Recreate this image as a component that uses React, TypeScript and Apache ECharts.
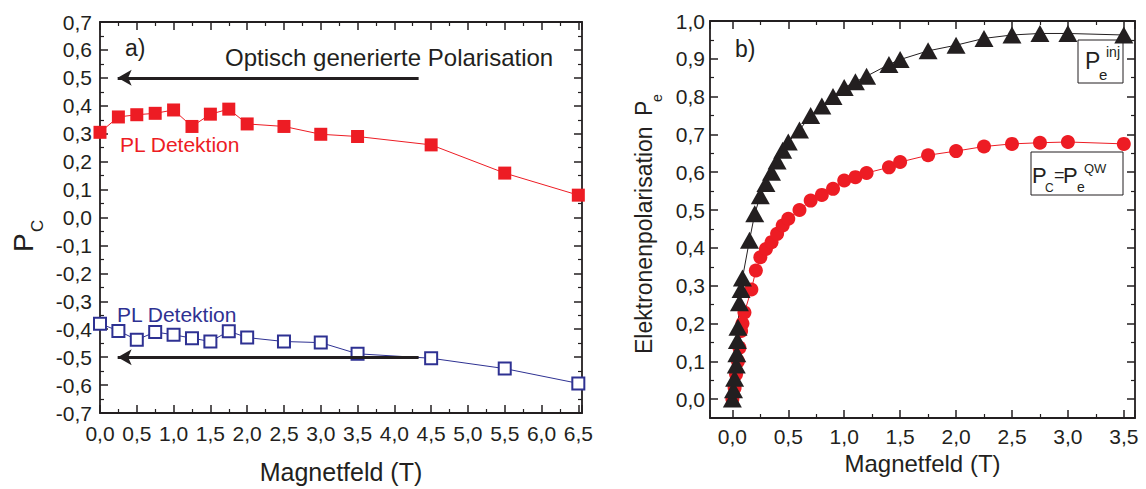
import React, { useEffect, useRef } from "react";
import * as echarts from "echarts";

// ---- Data (panel a) ----
const aX = [0, 0.25, 0.5, 0.75, 1, 1.25, 1.5, 1.75, 2, 2.5, 3, 3.5, 4.5, 5.5, 6.5];
const aRed = [0.305, 0.36, 0.368, 0.373, 0.385, 0.326, 0.37, 0.388, 0.335, 0.326, 0.298, 0.29, 0.26, 0.159, 0.08];
const aBlue = [-0.38, -0.406, -0.438, -0.41, -0.42, -0.432, -0.444, -0.407, -0.43, -0.444, -0.448, -0.488, -0.504, -0.541, -0.594];
const arrowY = [0.5, -0.5];
const arrowFrom = 4.33;
const arrowTo = 0.24;

// ---- Data (panel b) ----
const injX = [0, 0.01, 0.02, 0.035, 0.04, 0.045, 0.05, 0.063, 0.078, 0.09, 0.153, 0.2, 0.25, 0.3, 0.35, 0.4, 0.45, 0.5, 0.6, 0.7, 0.8, 0.9, 1.0, 1.1, 1.2, 1.4, 1.5, 1.75, 2.0, 2.25, 2.5, 2.75, 3.0, 3.5];
const injY = [0, 0.025, 0.055, 0.09, 0.12, 0.155, 0.19, 0.255, 0.29, 0.32, 0.42, 0.49, 0.538, 0.57, 0.6, 0.63, 0.658, 0.68, 0.712, 0.75, 0.775, 0.8, 0.824, 0.839, 0.854, 0.885, 0.898, 0.921, 0.936, 0.954, 0.963, 0.967, 0.967, 0.963];
const qwX = [0, 0.02, 0.033, 0.05, 0.063, 0.078, 0.09, 0.108, 0.17, 0.21, 0.25, 0.3, 0.35, 0.4, 0.45, 0.5, 0.6, 0.7, 0.8, 0.9, 1.0, 1.1, 1.2, 1.4, 1.5, 1.75, 2.0, 2.25, 2.5, 2.75, 3.0, 3.5];
const qwY = [0, 0.03, 0.066, 0.1, 0.136, 0.18, 0.2, 0.229, 0.29, 0.34, 0.375, 0.397, 0.415, 0.437, 0.459, 0.477, 0.5, 0.525, 0.54, 0.556, 0.578, 0.587, 0.598, 0.613, 0.627, 0.645, 0.656, 0.668, 0.675, 0.678, 0.68, 0.675];

const FONT = "'Liberation Sans', Arial, Helvetica, sans-serif";
const INK = "#231f20";
const RED = "#ed1c24";
const BLUE = "#2e3192";

const fmt = (step: number) => (v: number) => {
  const k = v / step;
  if (Math.abs(k - Math.round(k)) > 1e-6) return "";
  return (Math.round(k) * step).toFixed(1).replace(".", ",");
};

function axisBase(extra: any) {
  return {
    type: "value",
    axisLine: { show: true, onZero: false, lineStyle: { color: INK, width: 1.8 } },
    axisTick: { show: true, inside: true, length: 8, lineStyle: { color: INK, width: 1.5 } },
    minorTick: { show: true, splitNumber: 2, length: 4, lineStyle: { color: INK, width: 1.2 } },
    splitLine: { show: false },
    minorSplitLine: { show: false },
    axisLabel: { show: false },
    ...extra,
  };
}

const tickLabel = (step: number, margin: number) => ({
  show: true,
  formatter: fmt(step),
  color: INK,
  fontSize: 21,
  fontFamily: FONT,
  margin,
});

function txt(text: string, x: number, y: number, size: number, color = INK, align = "left", rotation = 0) {
  return {
    type: "text",
    x,
    y,
    rotation,
    silent: true,
    style: {
      text,
      font: `${size}px ${FONT}`,
      fill: color,
      align,
      verticalAlign: "middle",
      textAlign: align,
      textVerticalAlign: "middle",
    },
  };
}

export default function App() {
  const ref = useRef<HTMLDivElement>(null);
  useEffect(() => {
    if (!ref.current) return;
    const chart = echarts.init(ref.current, undefined, { renderer: "svg" });
    const aXr = { min: 0, max: 6.55, interval: 0.5 };
    const aYr = { min: -0.7, max: 0.7, interval: 0.1 };
    const bXr = { min: -0.2, max: 3.6, splitNumber: 8 };
    const bYr = { min: -0.05, max: 1.0, splitNumber: 10 };
    const arrowLine = (y: number) => ({
      silent: true,
      symbol: ["arrow", "none"],
      symbolSize: [12, 14],
      label: { show: false },
      lineStyle: { color: INK, width: 3, type: "solid" },
      emphasis: { disabled: true },
      data: [[{ coord: [arrowTo, y] }, { coord: [arrowFrom, y] }]],
    });
    chart.setOption({
      animation: false,
      backgroundColor: "#fff",
      textStyle: { fontFamily: FONT },
      grid: [
        { left: 100, top: 22, width: 482, height: 397 },
        { left: 710, top: 21, width: 425, height: 397 },
      ],
      xAxis: [
        axisBase({
          gridIndex: 0, position: "bottom", ...aXr,
          axisLabel: tickLabel(0.5, 10),
          name: "Magnetfeld (T)", nameLocation: "middle", nameGap: 46,
          nameTextStyle: { fontSize: 25, color: INK, fontFamily: FONT },
        }),
        axisBase({ gridIndex: 0, position: "top", ...aXr }),
        axisBase({
          gridIndex: 1, position: "bottom", ...bXr,
          axisLabel: tickLabel(0.5, 8),
          name: "Magnetfeld (T)", nameLocation: "middle", nameGap: 29,
          nameTextStyle: { fontSize: 24, color: INK, fontFamily: FONT },
        }),
        axisBase({ gridIndex: 1, position: "top", ...bXr }),
      ],
      yAxis: [
        axisBase({ gridIndex: 0, position: "left", ...aYr, axisLabel: tickLabel(0.1, 8) }),
        axisBase({ gridIndex: 0, position: "right", ...aYr }),
        axisBase({ gridIndex: 1, position: "left", ...bYr, axisLabel: tickLabel(0.1, 5) }),
        axisBase({ gridIndex: 1, position: "right", ...bYr }),
      ],
      series: [
        {
          name: "PL Detektion (rot)",
          type: "line",
          xAxisIndex: 0, yAxisIndex: 0,
          data: aX.map((x, i) => [x, aRed[i]]),
          symbol: "rect", symbolSize: 13,
          itemStyle: { color: RED },
          lineStyle: { color: RED, width: 1 },
          markLine: arrowLine(arrowY[0]),
        },
        {
          name: "PL Detektion (blau)",
          type: "line",
          xAxisIndex: 0, yAxisIndex: 0,
          data: aX.map((x, i) => [x, aBlue[i]]),
          symbol: "emptyRect", symbolSize: 12,
          itemStyle: { color: BLUE, borderColor: BLUE, borderWidth: 2 },
          lineStyle: { color: BLUE, width: 1 },
          markLine: arrowLine(arrowY[1]),
        },
        {
          name: "PC=PeQW",
          type: "line",
          xAxisIndex: 2, yAxisIndex: 2,
          data: qwX.map((x, i) => [x, qwY[i]]),
          symbol: "circle", symbolSize: 14,
          itemStyle: { color: RED },
          lineStyle: { color: RED, width: 1 },
        },
        {
          name: "Peinj",
          type: "line",
          xAxisIndex: 2, yAxisIndex: 2,
          data: injX.map((x, i) => [x, injY[i]]),
          symbol: "triangle", symbolSize: [19, 17],
          itemStyle: { color: INK },
          lineStyle: { color: INK, width: 1 },
        },
      ],
      graphic: [
        txt("a)", 125, 48, 23),
        txt("Optisch generierte Polarisation", 225, 57, 24),
        txt("PL Detektion", 120, 144, 21, RED),
        txt("PL Detektion", 117, 314, 21, BLUE),
        txt("P", 23, 252, 28, INK, "left", Math.PI / 2),
        txt("C", 37, 232, 17, INK, "left", Math.PI / 2),
        txt("b)", 735, 49, 23),
        txt("Elektronenpolarisation", 644, 354, 23, INK, "left", Math.PI / 2),
        txt("P", 644, 116, 23, INK, "left", Math.PI / 2),
        txt("e", 657, 102, 14, INK, "left", Math.PI / 2),
        {
          type: "rect", silent: true,
          shape: { x: 1078, y: 40, width: 45, height: 43 },
          style: { fill: "#fff", stroke: INK, lineWidth: 1 },
        },
        txt("P", 1085, 61, 23),
        txt("e", 1099, 74, 15),
        txt("inj", 1106, 52, 14),
        {
          type: "rect", silent: true,
          shape: { x: 1031, y: 152, width: 92, height: 43 },
          style: { fill: "#fff", stroke: INK, lineWidth: 1 },
        },
        txt("P", 1032, 175, 22),
        txt("C", 1045, 188, 12),
        txt("=", 1054, 175, 18),
        txt("P", 1063, 175, 22),
        txt("e", 1077, 187, 14),
        txt("QW", 1084, 168, 13),
      ],
    });
    return () => chart.dispose();
  }, []);
  return (
    <div
      ref={ref}
      style={{ position: "fixed", left: 0, top: 0, width: 1146, height: 489, background: "#fff" }}
    />
  );
}
